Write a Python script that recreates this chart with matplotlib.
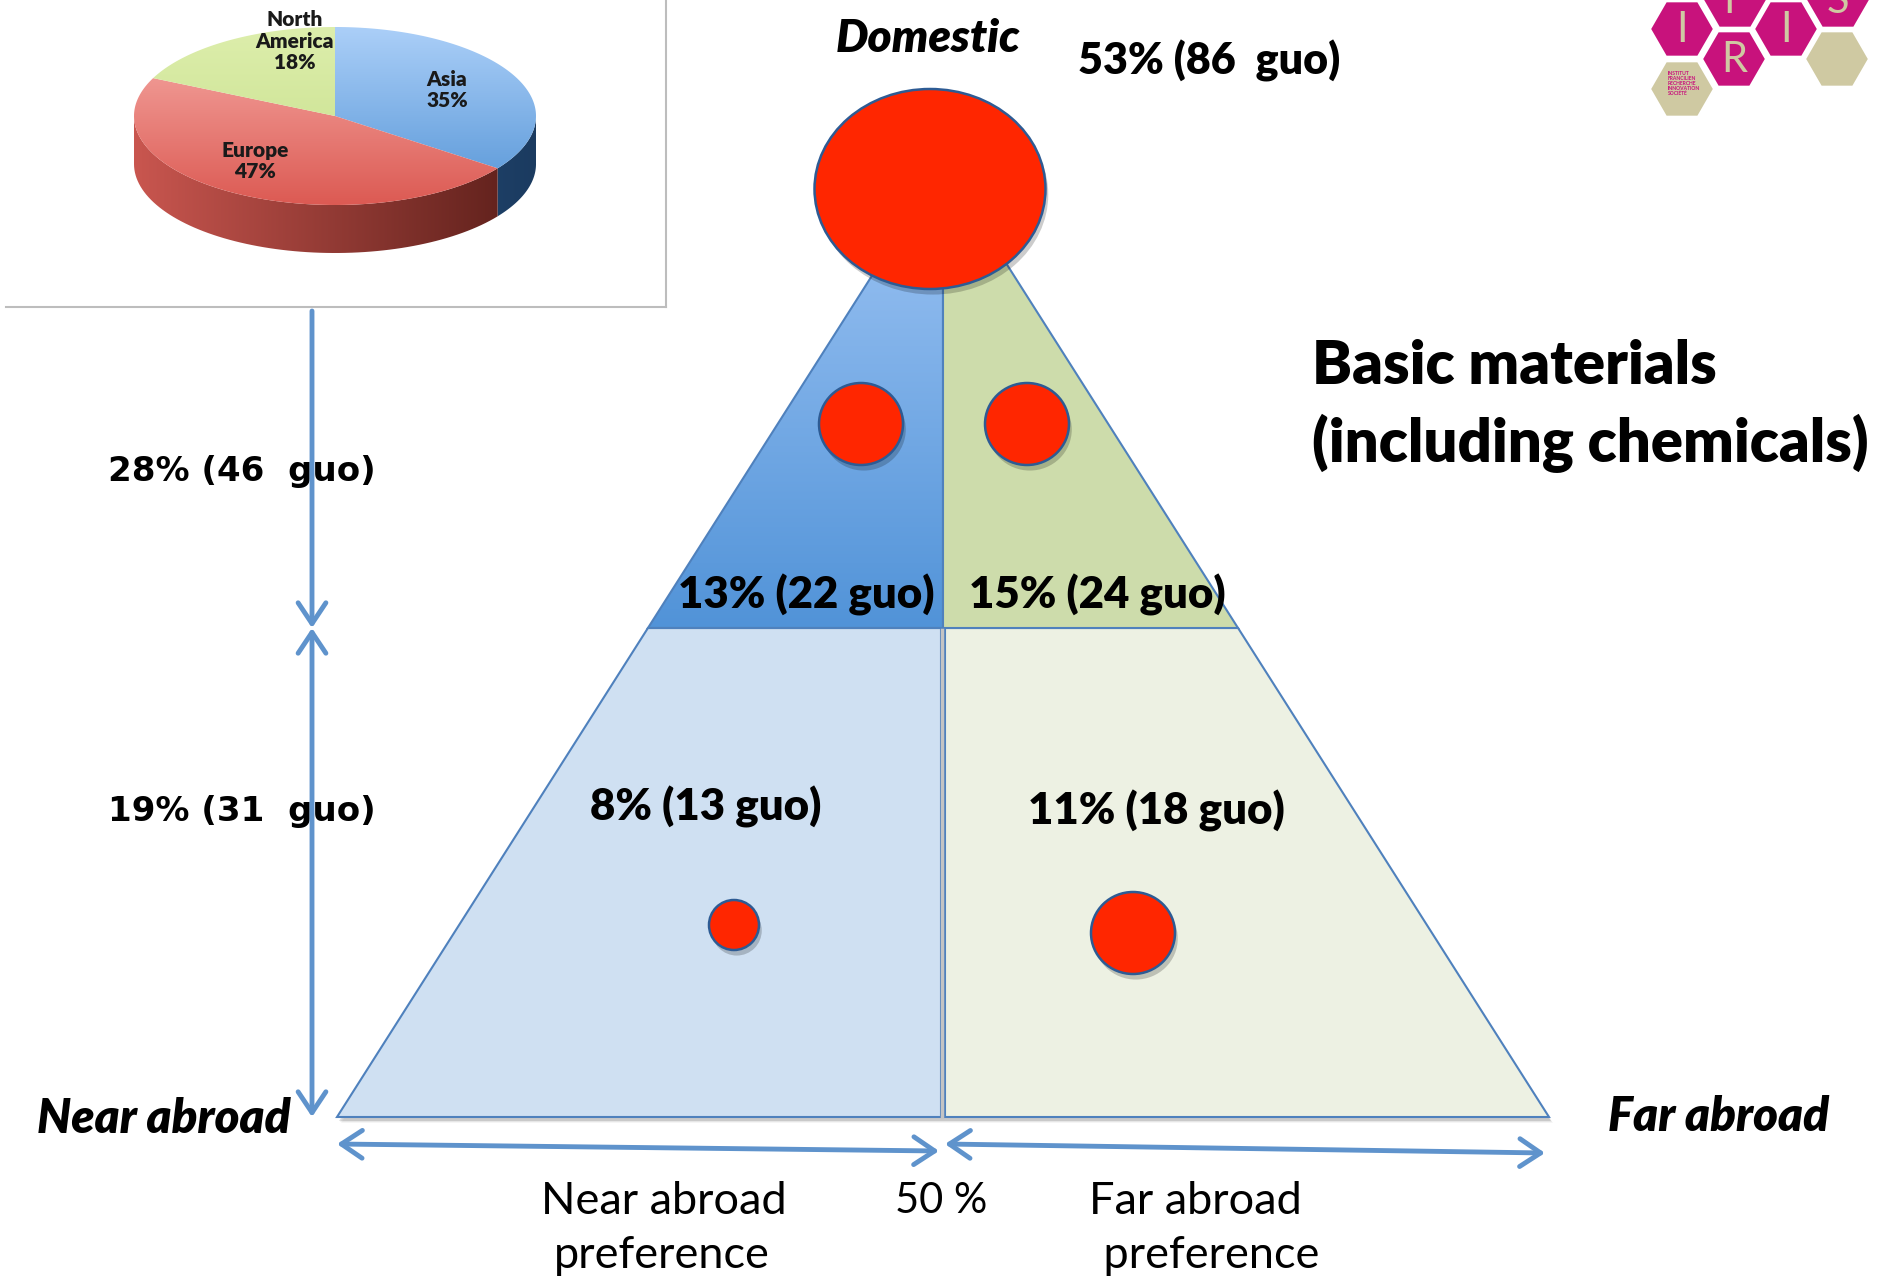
import numpy as np
import matplotlib.pyplot as plt
from matplotlib.patches import Polygon, Ellipse, RegularPolygon, FancyArrowPatch
from matplotlib.colors import to_rgb
import matplotlib.patheffects as pe

# regional split of the foreign units (pie inset)
regions = ['Asia', 'Europe', 'North\nAmerica']
region_share = [35, 47, 18]

# triangle cells: share of groups and number of guo
cells = ['Domestic', 'Near top', 'Far top', 'Near bottom', 'Far bottom']
cell_share = [53, 13, 15, 8, 11]
cell_guo = [86, 22, 24, 13, 18]

# row totals on the left come from the two cells of each row
row_share = [cell_share[1] + cell_share[2], cell_share[3] + cell_share[4]]
row_guo = [cell_guo[1] + cell_guo[2], cell_guo[3] + cell_guo[4]]

title_lines = ['Basic materials', '(including chemicals)']
corner_labels = ['Domestic', 'Near abroad', 'Far abroad']
pref_labels = [['Near abroad', 'preference'], ['Far abroad', ' preference']]
split_label = '50 %'

W, H = 1888, 1286
fig = plt.figure(figsize=(W / 100, H / 100), dpi=100)
ax = fig.add_axes([0, 0, 1, 1])
ax.set_xlim(0, W)
ax.set_ylim(H, 0)
ax.axis('off')

FONT = ['Lato', 'DejaVu Sans']
BOLD = 'heavy'
BLUE = '#5f93cc'
EDGE = '#4f81bd'
RED = '#ff2600'
RING = '#2d5b94'


def gradient(patch, c0, c1, box, horizontal=False, z=1):
    x0, x1, y0, y1 = box
    t = np.linspace(0, 1, 200)[:, None]
    g = (1 - t) * np.array(to_rgb(c0)) + t * np.array(to_rgb(c1))
    img = g[None, :, :] if horizontal else g[:, None, :]
    im = ax.imshow(img, extent=(x0, x1, y1, y0), origin='upper', aspect='auto',
                   interpolation='bilinear', zorder=z)
    im.set_clip_path(patch)


def shadow(pts, z, dx=2, dy=4, alpha=0.12):
    for k in range(3):
        ax.add_patch(Polygon(np.asarray(pts) + [dx + k, dy + k], closed=True,
                             fc='k', ec='none', alpha=alpha / (k + 1), zorder=z))


circle_fx = [pe.SimplePatchShadow(offset=(2, -4), shadow_rgbFace='k', alpha=0.2), pe.Normal()]

# ---------------- pie inset ----------------
ax.plot([6, 666], [307, 307], color='#bdbdbd', lw=1.5, zorder=1)
ax.plot([666, 666], [0, 307], color='#bdbdbd', lw=1.5, zorder=1)

pcx, pcy, pa, pb, depth = 335, 116, 201, 89, 48
face_cols = [('#abcff8', '#5494d6'), ('#f7aea9', '#dc5a53'), ('#ddeeac', '#c6df8a')]
side_cols = [('#2f6196', '#1b3b60'), ('#c9564f', '#5a1e19'), ('#9fb86a', '#6f8a3c')]
edges = 90 - 360 * np.cumsum([0] + region_share) / sum(region_share)
side_box = (pcx - pa, pcx + pa, pcy - pb, pcy + pb + depth)

for i in range(len(regions)):
    hi, lo = edges[i], edges[i + 1]
    t0, t1 = max(lo, -180), min(hi, 0)
    if t1 > t0:
        t = np.radians(np.linspace(t0, t1, 80))
        xs, ys = pcx + pa * np.cos(t), pcy - pb * np.sin(t)
        pts = np.r_[np.c_[xs, ys], np.c_[xs[::-1], ys[::-1] + depth]]
        p = Polygon(pts, closed=True, fc='none', ec='none', zorder=3)
        ax.add_patch(p)
        gradient(p, *side_cols[i], side_box, horizontal=True, z=2.9)

for i in range(len(regions)):
    t = np.radians(np.linspace(edges[i], edges[i + 1], 120))
    pts = np.r_[[[pcx, pcy]], np.c_[pcx + pa * np.cos(t), pcy - pb * np.sin(t)]]
    p = Polygon(pts, closed=True, fc='none', ec='none', zorder=4.1)
    ax.add_patch(p)
    gradient(p, *face_cols[i], (pcx - pa, pcx + pa, pcy - pb, pcy + pb), z=4)

pie_label_xy = [(447, 90), (255, 161), (295, 41)]
for i, name in enumerate(regions):
    ax.text(*pie_label_xy[i], '%s\n%d%%' % (name, region_share[i]), ha='center', va='center',
            fontsize=15, fontweight=BOLD, family=FONT, color='#1a1a1a',
            linespacing=1.15, zorder=5)

# ---------------- triangle ----------------
apx, apy = 943, 164
base_y, split_y = 1117, 628
half_base = 606


def edge_x(y, s):
    return apx + s * half_base * (y - apy) / (base_y - apy)


up_left = [(apx, apy), (edge_x(split_y, -1), split_y), (apx, split_y)]
up_right = [(apx, apy), (apx, split_y), (edge_x(split_y, 1), split_y)]
low_left = [(edge_x(split_y, -1), split_y), (edge_x(base_y, -1), base_y),
            (apx - 2, base_y), (apx - 2, split_y)]
low_right = [(apx + 2, split_y), (apx + 2, base_y), (edge_x(base_y, 1), base_y),
             (edge_x(split_y, 1), split_y)]

shadow([(apx, apy), (edge_x(base_y, -1), base_y), (edge_x(base_y, 1), base_y)], 1.5)

p = Polygon(up_left, closed=True, fc='none', ec=EDGE, lw=1.5, zorder=2.1)
ax.add_patch(p)
gradient(p, '#a0c6f5', '#5193d8', (edge_x(split_y, -1), apx, apy, split_y), z=2)
ax.add_patch(Polygon(up_right, closed=True, fc='#cddcab', ec=EDGE, lw=1.5, zorder=2.1))
ax.add_patch(Polygon(low_left, closed=True, fc='#cfe0f2', ec=EDGE, lw=1.5, zorder=2.05))
ax.add_patch(Polygon(low_right, closed=True, fc='#edf1e3', ec=EDGE, lw=1.5, zorder=2.05))
ax.plot([apx - 1, apx - 1], [split_y + 2, base_y], color='#c4c4c4', lw=2.5, zorder=2.2)

# red markers for each cell
marker_xy = [(930, 189), (861, 424), (1027, 424), (734, 925), (1133, 933)]
marker_wh = [(231, 200), (84, 82), (84, 82), (50, 50), (84, 82)]
for i in range(len(cells)):
    e = Ellipse(marker_xy[i], *marker_wh[i], fc=RED, ec=RING, lw=1.8,
                zorder=7 if i == 0 else 3)
    e.set_path_effects(circle_fx)
    ax.add_patch(e)

# cell labels
cell_xy = [None, (806, 595), (1097, 595), (706, 807), (1156, 811)]
for i in range(1, len(cells)):
    ax.text(*cell_xy[i], '%d%% (%d guo)' % (cell_share[i], cell_guo[i]), ha='center',
            va='center', fontsize=31.5, fontweight=BOLD, family=FONT, zorder=5)

ax.text(928, 39, corner_labels[0], ha='center', va='center', fontsize=33,
        fontweight=BOLD, style='italic', family=FONT)
ax.text(1209, 61, '%d%% (%d  guo)' % (cell_share[0], cell_guo[0]), ha='center',
        va='center', fontsize=31, fontweight=BOLD, family=FONT)
ax.text(164, 1119, corner_labels[1], ha='center', va='center', fontsize=34,
        fontweight=BOLD, style='italic', family=FONT)
ax.text(1719, 1117, corner_labels[2], ha='center', va='center', fontsize=34,
        fontweight=BOLD, style='italic', family=FONT)

for k, line in enumerate(title_lines):
    ax.text(1312, 367 + 76 * k, line, ha='left', va='center', fontsize=43,
            fontweight=BOLD, family=FONT)

# row totals along the vertical axis
row_y = [472, 812]
for k in range(2):
    ax.text(242, row_y[k], '%d%% (%d  guo)' % (row_share[k], row_guo[k]), ha='center',
            va='center', fontsize=24.5, fontweight='bold', family='DejaVu Sans', zorder=4)

# preference labels under the base
pref_x = [[664, 662], [1195, 1206]]
for k in range(2):
    for j in range(2):
        ax.text(pref_x[k][j], 1201 + 55 * j, pref_labels[k][j], ha='center', va='center',
                fontsize=32.5, family=FONT)
ax.text(941, 1201, split_label, ha='center', va='center', fontsize=30, family=FONT)

# ---------------- arrows ----------------
arrows = [((312, 311), (312, 628), '->'),
          ((312, 628), (312, 1117), '<->'),
          ((337, 1144), (939, 1151), '<->'),
          ((945, 1144), (1545, 1153), '<->')]
for a, b, style in arrows:
    ax.add_patch(FancyArrowPatch(a, b, arrowstyle=style + ',head_length=0.75,head_width=0.5',
                                 mutation_scale=20, color=BLUE, lw=3.5, zorder=6,
                                 shrinkA=0, shrinkB=0))

# ---------------- logo ----------------
MAG = '#c8127c'
BEIGE = '#cfc9a2'
hexes = [(1682, 29, MAG, 'I'), (1735, 0, MAG, 'F'), (1734, 59, MAG, 'R'),
         (1786, 29, MAG, 'I'), (1838, 0, MAG, 'S'), (1837, 59, BEIGE, ''),
         (1682, 89, BEIGE, '')]
for hx, hy, col, letter in hexes:
    ax.add_patch(RegularPolygon((hx, hy), 6, radius=32, orientation=np.pi / 6,
                                fc=col, ec='white', lw=1.5, zorder=8))
    if letter:
        ax.text(hx, hy + 1, letter, ha='center', va='center', fontsize=30,
                family=FONT, color=BEIGE, zorder=9)
ax.text(1668, 71, 'INSTITUT\nFRANCILIEN\nRECHERCHE\nINNOVATION\nSOCIÉTÉ', ha='left',
        va='top', fontsize=3.6, fontweight='bold', color=MAG, linespacing=1.0,
        family=FONT, zorder=9)

ax.set_xlim(0, W)
ax.set_ylim(H, 0)
fig.savefig('out.png', dpi=100)
